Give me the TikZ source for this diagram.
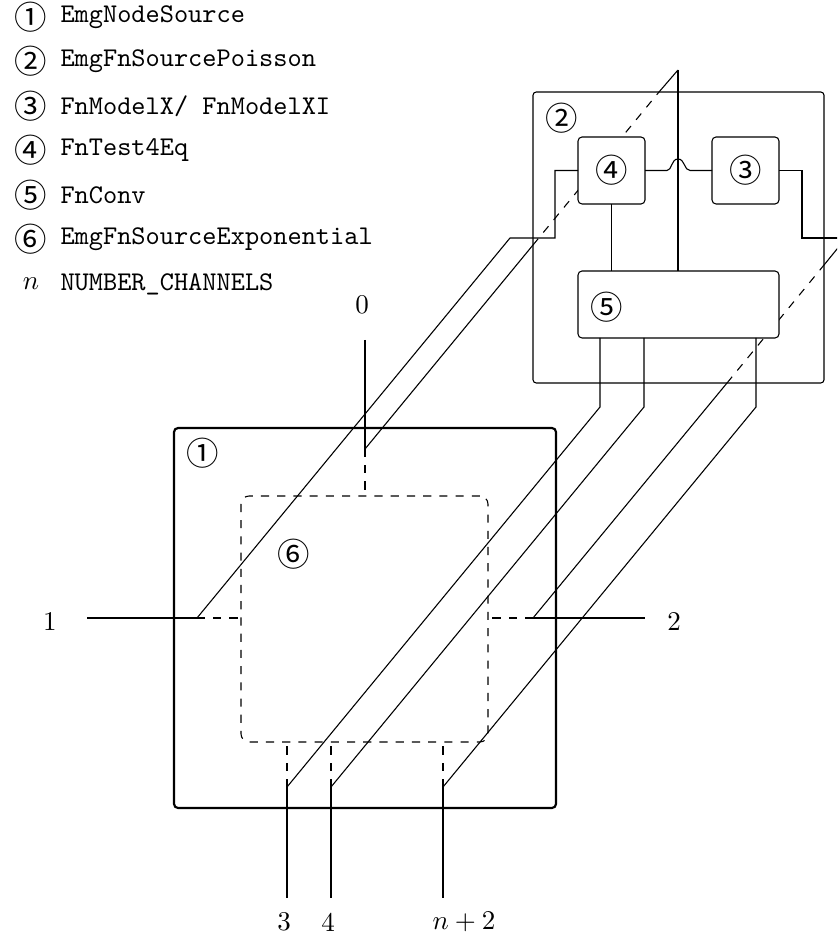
\documentclass[tikz,border=0pt]{standalone}
\usepackage{fontspec}
\newfontfamily\circfont{Noto Sans CJK JP}
\usetikzlibrary{fit}
\begin{document}
\begin{tikzpicture}[x=0.37pt,y=-0.37pt,
  wire/.style={line width=0.4pt},
  port/.style={line width=0.8pt},
  hidden/.style={line width=0.4pt,dashed},
  backbox/.style={draw,line width=0.4pt,rounded corners=1.2pt,inner sep=0pt,outer sep=0pt},
  subbox/.style={draw,fill=white,line width=0.4pt,rounded corners=1.5pt,inner sep=0pt,outer sep=0pt},
  frontbox/.style={draw,line width=0.8pt,rounded corners=1.5pt,inner sep=0pt,outer sep=0pt},
  fnbox/.style={draw,dashed,line width=0.4pt,rounded corners=3pt,inner sep=0pt,outer sep=0pt},
  circ/.style={font=\fontsize{12}{12}\circfont,inner sep=0pt},
  lbl/.style={inner sep=0pt},
  legtxt/.style={font=\ttfamily,anchor=west,inner sep=0pt}
]
\useasboundingbox (0,0) rectangle (837,941);
\clip (0,0) rectangle (837,941);

% ---------- legend ----------
\node[circ] (k1) at (31,17) {①};
\node[legtxt] (t1) at (60,17) {EmgNodeSource};
\node[circ] (k2) at (31,61.5) {②};
\node[legtxt] (t2) at (60,61.5) {EmgFnSourcePoisson};
\node[circ] (k3) at (31,106) {③};
\node[legtxt] (t3) at (60,106) {FnModelX/ FnModelXI};
\node[circ] (k4) at (31,150.5) {④};
\node[legtxt] (t4) at (60,150.5) {FnTest4Eq};
\node[circ] (k5) at (31,195) {⑤};
\node[legtxt] (t5) at (60,195) {FnConv};
\node[circ] (k6) at (31,239.5) {⑥};
\node[legtxt] (t6) at (60,239.5) {EmgFnSourceExponential};
\node[lbl] (kn) at (31,284) {$n$};
\node[legtxt] (tn) at (60,284) {NUMBER\_CHANNELS};

% ---------- boxes ----------
\node[backbox, fit={(533,92) (824,383)}] (b2) {};
\node[frontbox, fit={(174,428) (556,808)}] (b1) {};
\node[fnbox, fit={(241,496) (488,742)}] (b6) {};
\node[circ] (l1) at (203,453) {①};
\node[circ] (l6) at (294,554) {⑥};
\node[circ] (l2) at (562,118) {②};

% ---------- ports ----------
\coordinate (p0in) at (365,449); \coordinate (p0out) at (365,340);
\coordinate (p1in) at (197,618); \coordinate (p1out) at (87,618);
\coordinate (p2in) at (533,618); \coordinate (p2out) at (645,618);
\coordinate (p3in) at (287,787); \coordinate (p3out) at (287,898);
\coordinate (p4in) at (331,787); \coordinate (p4out) at (331,898);
\coordinate (pnin) at (443,787); \coordinate (pnout) at (443,898);

\draw[port] (p0out) -- (p0in);
\draw[port] (p1out) -- (p1in);
\draw[port] (p2in) -- (p2out);
\draw[port] (p3in) -- (p3out);
\draw[port] (p4in) -- (p4out);
\draw[port] (pnin) -- (pnout);
\draw[hidden] (p0in) -- (p0in |- b6.north);
\draw[hidden] (p1in) -- (p1in -| b6.west);
\draw[hidden] (p2in) -- (p2in -| b6.east);
\draw[hidden] (p3in) -- (p3in |- b6.south);
\draw[hidden] (p4in) -- (p4in |- b6.south);
\draw[hidden] (pnin) -- (pnin |- b6.south);

\node[lbl] (n0) at (362,305) {0};
\node[lbl] (n1) at (50,621) {1};
\node[lbl] (n2) at (674,621) {2};
\node[lbl] (n3) at (284,922) {3};
\node[lbl] (n4) at (328,922) {4};
\node[lbl,anchor=west] (nn) at (432,922) {$n+2$};

% ---------- diagonals ----------
\coordinate (t0) at (678,70);
\coordinate (a0) at (533,245);
\coordinate (c0) at (659,92);
\draw[wire] (p0in) -- (a0);
\draw[hidden] (a0) -- (c0);
\draw[wire] (c0) -- (t0);

\coordinate (a2) at (727,383);
\coordinate (c2) at (824,265);
\coordinate (t2) at (846,238);
\draw[wire] (p2in) -- (a2);
\draw[hidden] (a2) -- (c2);
\draw[wire] (c2) -- (t2);

\coordinate (q1) at (510,238);
\coordinate (r1) at (555,238);
\coordinate (q3) at (600,407);
\coordinate (q4) at (644,407);
\coordinate (qn) at (756,407);

% ---------- inner function boxes ----------
\node[subbox, fit={(578,137) (645,204)}] (b4) {};
\node[subbox, fit={(712,137) (779,204)}] (b3) {};
\node[subbox, fit={(578,271) (779,338)}] (b5) {};
\node[circ] (l4) at (b4.center) {④};
\node[circ] (l3) at (b3.center) {③};
\node[circ] (l5) at (607,307) {⑤};

% ---------- wiring ----------
\draw[wire] (p1in) -- (q1) -- (r1) |- (b4.west);
\draw[wire] (p3in) -- (q3) -- (q3 |- b5.south);
\draw[wire] (p4in) -- (q4) -- (q4 |- b5.south);
\draw[wire] (pnin) -- (qn) -- (qn |- b5.south);
\draw[wire] (t0) -- (t0 |- b5.north);
\draw[wire] (b4.south) -- (b4.south |- b5.north);
\coordinate (j1) at (667,170.5);
\coordinate (j2) at (690,170.5);
\draw[wire] (b4.east) -- (j1) .. controls (672,170.5) and (671,159) .. (678,159)
  .. controls (685,159) and (684,170.5) .. (j2) -- (b3.west);
\coordinate (k3) at (802,238);
\draw[wire] (b3.east) -| (k3) -- (t2);
\end{tikzpicture}
\end{document}
